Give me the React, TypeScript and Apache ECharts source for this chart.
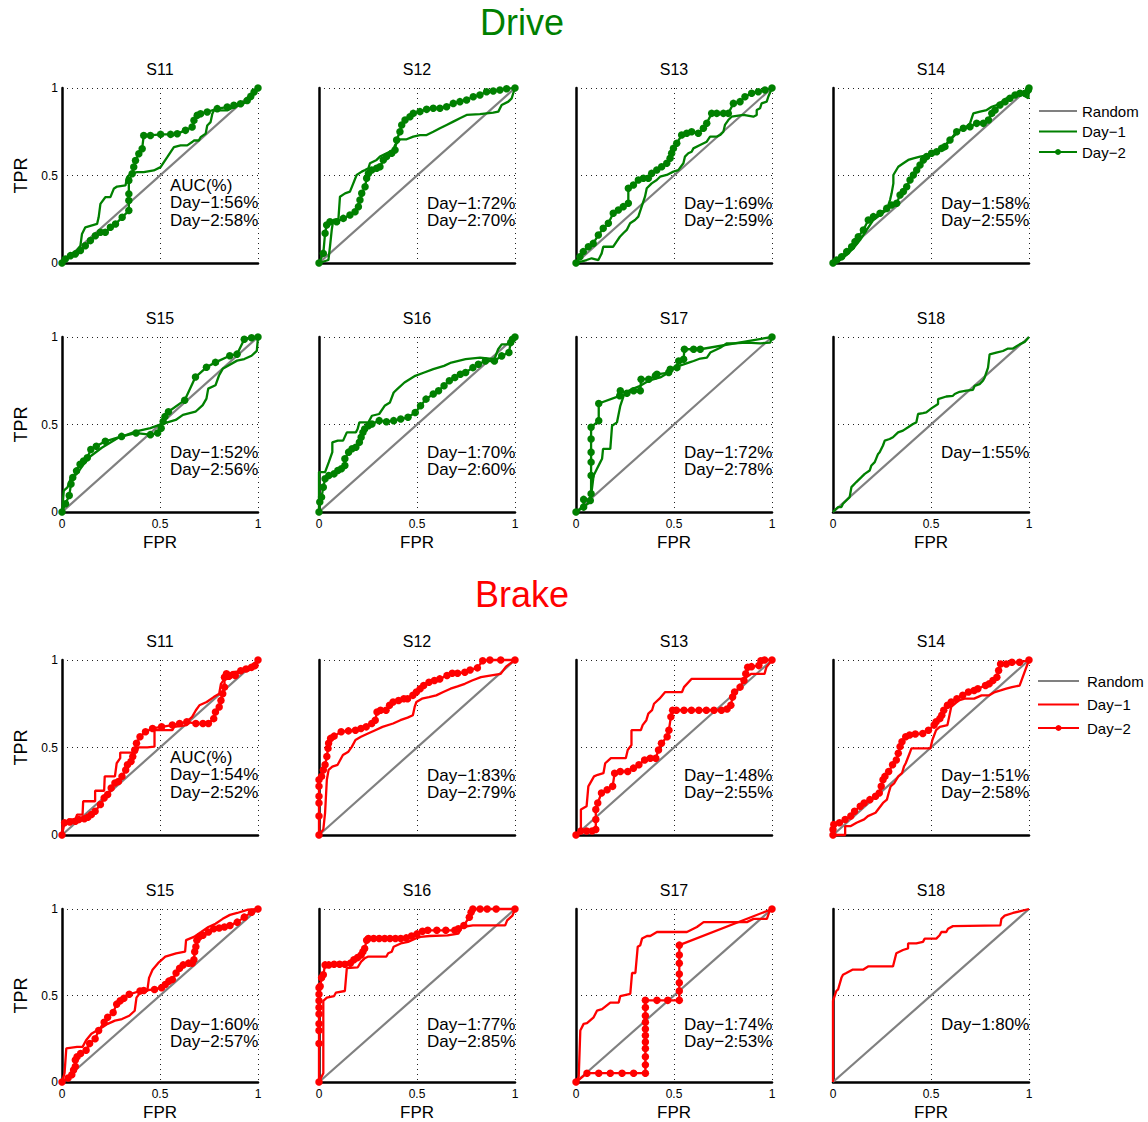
import React, { useEffect, useRef } from 'react';
import * as echarts from 'echarts';

// ---------- Data ----------
const subjects = ['S11', 'S12', 'S13', 'S14', 'S15', 'S16', 'S17', 'S18'];
const axisTicks = [0, 0.5, 1];

const driveAUC1 = [56, 72, 69, 58, 52, 70, 72, 55];
const driveAUC2 = [58, 70, 59, 55, 56, 60, 78, null];
const brakeAUC1 = [54, 83, 48, 51, 60, 77, 74, 80];
const brakeAUC2 = [52, 79, 55, 58, 57, 85, 53, null];

const randomLine = [[0, 0], [1, 1]];

// Drive
const driveS11Day1 = [[0,0],[0.017,0.013],[0.043,0.052],[0.068,0.061],[0.094,0.099],[0.102,0.166],[0.119,0.204],[0.179,0.223],[0.187,0.261],[0.196,0.338],[0.221,0.376],[0.247,0.376],[0.264,0.424],[0.281,0.437],[0.324,0.443],[0.332,0.49],[0.349,0.51],[0.383,0.519],[0.417,0.519],[0.468,0.529],[0.503,0.548],[0.537,0.605],[0.554,0.634],[0.571,0.662],[0.605,0.672],[0.639,0.672],[0.664,0.691],[0.673,0.7],[0.698,0.7],[0.707,0.719],[0.733,0.739],[0.741,0.786],[0.758,0.805],[0.767,0.853],[0.775,0.872],[0.843,0.872],[0.877,0.891],[0.945,0.92],[0.98,0.968],[1,1]];
const driveS11Day2 = [[0,0],[0.017,0.023],[0.043,0.042],[0.068,0.052],[0.094,0.071],[0.119,0.099],[0.145,0.128],[0.17,0.156],[0.196,0.176],[0.221,0.176],[0.247,0.204],[0.273,0.223],[0.307,0.261],[0.341,0.3],[0.341,0.357],[0.341,0.395],[0.341,0.471],[0.358,0.51],[0.366,0.548],[0.375,0.586],[0.392,0.624],[0.409,0.653],[0.417,0.729],[0.451,0.729],[0.503,0.735],[0.554,0.735],[0.588,0.739],[0.63,0.758],[0.664,0.777],[0.673,0.815],[0.69,0.844],[0.707,0.853],[0.741,0.863],[0.792,0.882],[0.843,0.891],[0.877,0.901],[0.911,0.91],[0.945,0.929],[0.963,0.952],[0.98,0.977],[1,1]];
const driveS12Day1 = [[0,0],[0.048,0.017],[0.056,0.093],[0.065,0.189],[0.073,0.246],[0.099,0.25],[0.107,0.379],[0.133,0.398],[0.158,0.408],[0.175,0.455],[0.192,0.503],[0.218,0.522],[0.235,0.531],[0.252,0.541],[0.26,0.57],[0.294,0.589],[0.311,0.608],[0.345,0.627],[0.379,0.646],[0.388,0.674],[0.405,0.693],[0.413,0.707],[0.447,0.707],[0.481,0.722],[0.515,0.731],[0.549,0.731],[0.583,0.75],[0.617,0.77],[0.651,0.789],[0.685,0.808],[0.719,0.827],[0.753,0.846],[0.821,0.851],[0.889,0.859],[0.915,0.865],[0.932,0.903],[0.966,0.922],[0.983,0.941],[0.991,0.97],[1,1]];
const driveS12Day2 = [[0,0],[0.022,0.055],[0.031,0.17],[0.039,0.217],[0.056,0.236],[0.09,0.236],[0.124,0.255],[0.158,0.274],[0.184,0.293],[0.201,0.322],[0.209,0.36],[0.218,0.398],[0.235,0.436],[0.243,0.484],[0.252,0.512],[0.269,0.531],[0.294,0.541],[0.311,0.55],[0.328,0.589],[0.345,0.608],[0.371,0.627],[0.388,0.646],[0.396,0.703],[0.413,0.75],[0.422,0.789],[0.439,0.817],[0.464,0.836],[0.481,0.855],[0.515,0.865],[0.549,0.878],[0.583,0.884],[0.617,0.884],[0.651,0.893],[0.685,0.912],[0.719,0.922],[0.753,0.931],[0.787,0.95],[0.821,0.96],[0.855,0.979],[0.889,0.983],[0.923,0.989],[0.957,0.996],[1,1]];
const driveS13Day1 = [[0,0],[0.054,0.017],[0.08,0.027],[0.114,0.017],[0.131,0.055],[0.139,0.093],[0.19,0.093],[0.207,0.122],[0.224,0.15],[0.241,0.17],[0.259,0.189],[0.276,0.227],[0.301,0.246],[0.318,0.265],[0.335,0.322],[0.352,0.379],[0.361,0.427],[0.386,0.455],[0.412,0.474],[0.429,0.493],[0.463,0.503],[0.497,0.522],[0.522,0.531],[0.548,0.57],[0.556,0.608],[0.573,0.627],[0.59,0.636],[0.599,0.655],[0.633,0.674],[0.667,0.693],[0.684,0.722],[0.718,0.722],[0.735,0.731],[0.752,0.75],[0.76,0.789],[0.777,0.817],[0.794,0.836],[0.854,0.846],[0.905,0.836],[0.922,0.846],[0.922,0.874],[0.939,0.884],[0.947,0.912],[0.973,0.922],[0.981,0.95],[1,1]];
const driveS13Day2 = [[0,0],[0.02,0.036],[0.037,0.065],[0.063,0.093],[0.088,0.112],[0.114,0.16],[0.139,0.198],[0.165,0.227],[0.19,0.284],[0.216,0.303],[0.241,0.322],[0.267,0.341],[0.267,0.427],[0.293,0.446],[0.318,0.474],[0.344,0.484],[0.369,0.484],[0.386,0.512],[0.412,0.531],[0.437,0.55],[0.463,0.57],[0.48,0.598],[0.488,0.627],[0.497,0.655],[0.514,0.684],[0.539,0.731],[0.565,0.741],[0.59,0.75],[0.624,0.741],[0.65,0.77],[0.667,0.798],[0.692,0.855],[0.718,0.855],[0.752,0.855],[0.777,0.855],[0.803,0.912],[0.837,0.922],[0.862,0.95],[0.896,0.97],[0.93,0.979],[0.964,0.989],[1,1]];
const driveS14Day1 = [[0,0],[0.036,0.017],[0.07,0.046],[0.104,0.084],[0.138,0.131],[0.172,0.189],[0.206,0.246],[0.24,0.274],[0.274,0.303],[0.291,0.36],[0.299,0.398],[0.308,0.455],[0.308,0.503],[0.333,0.55],[0.359,0.57],[0.384,0.589],[0.41,0.598],[0.444,0.608],[0.486,0.617],[0.512,0.627],[0.546,0.655],[0.58,0.684],[0.614,0.722],[0.648,0.76],[0.682,0.779],[0.699,0.798],[0.716,0.855],[0.75,0.865],[0.784,0.874],[0.81,0.893],[0.835,0.903],[0.861,0.922],[0.886,0.941],[0.92,0.96],[0.954,0.97],[0.997,0.941],[1,1]];
const driveS14Day2 = [[0,0],[0.019,0.017],[0.044,0.036],[0.07,0.065],[0.095,0.093],[0.112,0.122],[0.129,0.15],[0.155,0.189],[0.18,0.246],[0.206,0.265],[0.24,0.284],[0.274,0.312],[0.299,0.331],[0.325,0.341],[0.342,0.389],[0.359,0.408],[0.376,0.436],[0.393,0.474],[0.41,0.503],[0.427,0.531],[0.444,0.56],[0.461,0.589],[0.478,0.608],[0.503,0.627],[0.529,0.636],[0.554,0.655],[0.571,0.665],[0.597,0.703],[0.631,0.75],[0.665,0.77],[0.699,0.779],[0.733,0.798],[0.767,0.798],[0.793,0.817],[0.81,0.855],[0.827,0.874],[0.852,0.903],[0.878,0.922],[0.903,0.941],[0.929,0.96],[0.954,0.97],[0.98,0.97],[0.997,0.989],[1,1]];
const driveS15Day1 = [[0,0],[0.009,0.122],[0.028,0.141],[0.046,0.197],[0.074,0.216],[0.092,0.244],[0.11,0.273],[0.147,0.32],[0.203,0.367],[0.285,0.423],[0.378,0.461],[0.451,0.479],[0.497,0.498],[0.525,0.508],[0.58,0.526],[0.617,0.555],[0.681,0.573],[0.718,0.611],[0.737,0.648],[0.746,0.705],[0.783,0.724],[0.801,0.78],[0.82,0.818],[0.847,0.836],[0.893,0.865],[0.93,0.874],[0.967,0.893],[0.994,0.921],[1,1]];
const driveS15Day2 = [[0,0],[0.018,0.047],[0.037,0.094],[0.046,0.16],[0.055,0.197],[0.074,0.235],[0.092,0.273],[0.11,0.291],[0.129,0.31],[0.147,0.357],[0.175,0.376],[0.221,0.404],[0.304,0.432],[0.378,0.451],[0.451,0.442],[0.488,0.451],[0.506,0.479],[0.516,0.517],[0.525,0.545],[0.543,0.573],[0.626,0.639],[0.681,0.771],[0.737,0.827],[0.783,0.855],[0.856,0.893],[0.893,0.902],[0.93,0.987],[0.967,0.996],[1,1]];
const driveS16Day1 = [[0,0],[0,0.228],[0.031,0.228],[0.05,0.285],[0.068,0.342],[0.068,0.398],[0.096,0.408],[0.123,0.408],[0.142,0.455],[0.188,0.455],[0.197,0.474],[0.206,0.512],[0.252,0.512],[0.27,0.55],[0.307,0.56],[0.335,0.607],[0.362,0.626],[0.381,0.683],[0.399,0.702],[0.436,0.74],[0.491,0.778],[0.537,0.797],[0.583,0.816],[0.638,0.835],[0.675,0.854],[0.748,0.873],[0.822,0.882],[0.895,0.873],[0.914,0.93],[0.932,0.958],[0.978,0.958],[0.987,0.987],[1,1]];
const driveS16Day2 = [[0,0],[0.004,0.057],[0.013,0.085],[0.022,0.142],[0.031,0.19],[0.05,0.209],[0.077,0.218],[0.096,0.237],[0.114,0.247],[0.132,0.266],[0.132,0.304],[0.151,0.342],[0.169,0.361],[0.188,0.37],[0.206,0.398],[0.215,0.427],[0.224,0.455],[0.233,0.474],[0.252,0.493],[0.27,0.503],[0.307,0.522],[0.344,0.516],[0.381,0.522],[0.417,0.531],[0.454,0.541],[0.491,0.569],[0.518,0.607],[0.546,0.645],[0.583,0.674],[0.61,0.693],[0.638,0.721],[0.665,0.75],[0.693,0.769],[0.721,0.787],[0.748,0.797],[0.785,0.825],[0.813,0.844],[0.849,0.863],[0.895,0.863],[0.932,0.892],[0.969,0.911],[0.978,0.968],[0.987,0.987],[1,1]];
const driveS17Day1 = [[0,0],[0.073,0.057],[0.09,0.209],[0.107,0.247],[0.124,0.285],[0.133,0.304],[0.138,0.361],[0.175,0.361],[0.184,0.493],[0.209,0.512],[0.226,0.607],[0.243,0.664],[0.252,0.683],[0.286,0.702],[0.328,0.721],[0.371,0.75],[0.43,0.769],[0.473,0.797],[0.498,0.825],[0.549,0.844],[0.575,0.854],[0.6,0.863],[0.634,0.877],[0.668,0.882],[0.685,0.911],[0.736,0.939],[0.77,0.964],[0.804,0.964],[0.872,0.968],[0.94,0.964],[0.991,0.968],[1,1]];
const driveS17Day2 = [[0,0],[0.039,0.028],[0.039,0.072],[0.073,0.066],[0.077,0.104],[0.077,0.209],[0.077,0.285],[0.077,0.342],[0.077,0.417],[0.077,0.484],[0.116,0.522],[0.116,0.62],[0.223,0.664],[0.226,0.693],[0.26,0.679],[0.294,0.693],[0.328,0.693],[0.332,0.759],[0.371,0.759],[0.405,0.778],[0.413,0.787],[0.473,0.797],[0.481,0.816],[0.515,0.825],[0.524,0.863],[0.549,0.873],[0.553,0.93],[0.6,0.93],[0.634,0.93],[1,1]];
const driveS18Day1 = [[0,0],[0.026,0.028],[0.043,0.028],[0.051,0.047],[0.068,0.066],[0.085,0.085],[0.094,0.142],[0.119,0.171],[0.145,0.199],[0.162,0.218],[0.187,0.237],[0.196,0.266],[0.213,0.285],[0.23,0.332],[0.238,0.342],[0.255,0.38],[0.264,0.408],[0.289,0.417],[0.306,0.427],[0.332,0.455],[0.357,0.465],[0.383,0.484],[0.408,0.503],[0.425,0.512],[0.434,0.56],[0.459,0.565],[0.476,0.569],[0.502,0.592],[0.536,0.617],[0.536,0.645],[0.578,0.66],[0.612,0.664],[0.621,0.674],[0.646,0.687],[0.68,0.693],[0.714,0.698],[0.723,0.721],[0.748,0.731],[0.765,0.75],[0.774,0.769],[0.791,0.825],[0.799,0.901],[0.833,0.911],[0.867,0.92],[0.893,0.934],[0.918,0.934],[0.952,0.958],[0.978,0.972],[1,1]];

// Brake
const brakeS11Day1 = [[0,0],[0.004,0.07],[0.031,0.07],[0.031,0.089],[0.068,0.089],[0.077,0.117],[0.105,0.117],[0.108,0.193],[0.169,0.193],[0.169,0.253],[0.215,0.253],[0.218,0.335],[0.27,0.335],[0.279,0.41],[0.297,0.439],[0.297,0.471],[0.38,0.471],[0.389,0.501],[0.435,0.501],[0.472,0.505],[0.472,0.599],[0.527,0.599],[0.563,0.599],[0.572,0.618],[0.637,0.628],[0.646,0.656],[0.664,0.675],[0.683,0.713],[0.701,0.741],[0.738,0.76],[0.774,0.788],[0.802,0.807],[0.811,0.864],[0.829,0.892],[0.857,0.892],[0.866,0.93],[0.949,0.939],[0.967,0.949],[1,1]];
const brakeS11Day2 = [[0,0],[0.013,0.07],[0.04,0.074],[0.068,0.079],[0.086,0.089],[0.114,0.093],[0.132,0.102],[0.15,0.117],[0.169,0.136],[0.196,0.174],[0.215,0.212],[0.233,0.231],[0.251,0.268],[0.27,0.297],[0.288,0.306],[0.306,0.335],[0.325,0.372],[0.334,0.401],[0.352,0.42],[0.361,0.448],[0.371,0.486],[0.38,0.524],[0.398,0.561],[0.426,0.59],[0.462,0.609],[0.508,0.618],[0.563,0.628],[0.6,0.637],[0.637,0.647],[0.683,0.637],[0.719,0.637],[0.747,0.637],[0.774,0.665],[0.783,0.703],[0.802,0.732],[0.811,0.769],[0.82,0.807],[0.829,0.845],[0.829,0.902],[0.839,0.921],[0.857,0.911],[0.884,0.911],[0.912,0.939],[0.939,0.949],[0.967,0.958],[0.985,0.968],[1,1]];
const brakeS12Day1 = [[0,0],[0.022,0.032],[0.031,0.127],[0.04,0.316],[0.049,0.372],[0.068,0.391],[0.095,0.401],[0.104,0.42],[0.122,0.457],[0.15,0.476],[0.168,0.505],[0.186,0.543],[0.214,0.561],[0.25,0.58],[0.287,0.599],[0.324,0.618],[0.378,0.637],[0.415,0.656],[0.452,0.671],[0.479,0.684],[0.488,0.732],[0.497,0.76],[0.525,0.779],[0.561,0.788],[0.598,0.798],[0.634,0.817],[0.671,0.836],[0.707,0.849],[0.744,0.864],[0.781,0.883],[0.826,0.902],[0.872,0.911],[0.927,0.921],[0.954,0.962],[1,1]];
const brakeS12Day2 = [[0,0],[0,0.108],[0,0.183],[0,0.221],[0,0.278],[0,0.316],[0.013,0.335],[0.022,0.372],[0.031,0.401],[0.04,0.448],[0.046,0.495],[0.049,0.524],[0.059,0.552],[0.077,0.565],[0.113,0.59],[0.15,0.595],[0.186,0.599],[0.214,0.609],[0.241,0.618],[0.269,0.637],[0.287,0.656],[0.296,0.703],[0.314,0.713],[0.342,0.713],[0.36,0.741],[0.378,0.76],[0.406,0.769],[0.433,0.779],[0.452,0.779],[0.479,0.798],[0.497,0.817],[0.516,0.836],[0.534,0.854],[0.561,0.873],[0.589,0.883],[0.616,0.892],[0.653,0.911],[0.68,0.924],[0.707,0.924],[0.744,0.93],[0.771,0.943],[0.808,0.955],[0.835,0.996],[0.872,1],[0.927,1],[1,1]];
const brakeS13Day1 = [[0,0],[0.025,0.032],[0.025,0.146],[0.054,0.164],[0.063,0.278],[0.092,0.335],[0.111,0.344],[0.14,0.353],[0.149,0.41],[0.178,0.439],[0.254,0.439],[0.264,0.486],[0.283,0.514],[0.283,0.599],[0.331,0.599],[0.34,0.628],[0.359,0.656],[0.369,0.694],[0.388,0.713],[0.398,0.75],[0.426,0.779],[0.455,0.817],[0.541,0.817],[0.551,0.845],[0.589,0.892],[0.857,0.892],[0.895,0.921],[0.962,0.921],[0.971,0.958],[1,1]];
const brakeS13Day2 = [[0,0],[0.025,0.023],[0.054,0.023],[0.082,0.023],[0.101,0.032],[0.101,0.089],[0.101,0.146],[0.111,0.183],[0.13,0.24],[0.159,0.259],[0.187,0.278],[0.197,0.353],[0.226,0.363],[0.264,0.363],[0.293,0.382],[0.321,0.401],[0.35,0.429],[0.379,0.439],[0.407,0.439],[0.421,0.486],[0.436,0.524],[0.465,0.561],[0.474,0.599],[0.484,0.675],[0.493,0.713],[0.512,0.713],[0.551,0.713],[0.589,0.713],[0.627,0.713],[0.665,0.713],[0.704,0.713],[0.742,0.713],[0.771,0.72],[0.79,0.741],[0.799,0.788],[0.809,0.817],[0.837,0.845],[0.857,0.883],[0.866,0.921],[0.876,0.958],[0.895,0.962],[0.933,0.968],[0.943,0.996],[0.962,1],[1,1]];
const brakeS14Day1 = [[0,0],[0.062,0],[0.062,0.051],[0.091,0.051],[0.12,0.07],[0.159,0.089],[0.178,0.108],[0.217,0.127],[0.255,0.183],[0.275,0.202],[0.284,0.24],[0.294,0.278],[0.313,0.297],[0.333,0.335],[0.352,0.353],[0.362,0.391],[0.371,0.41],[0.391,0.467],[0.4,0.495],[0.497,0.495],[0.507,0.543],[0.526,0.599],[0.545,0.618],[0.584,0.628],[0.603,0.732],[0.642,0.769],[0.671,0.779],[0.72,0.779],[0.758,0.798],[0.797,0.798],[0.826,0.817],[0.855,0.826],[0.884,0.836],[0.913,0.845],[0.952,0.854],[1,1]];
const brakeS14Day2 = [[0,0],[0,0.032],[0.004,0.06],[0.033,0.07],[0.062,0.089],[0.091,0.108],[0.11,0.136],[0.139,0.164],[0.159,0.183],[0.188,0.202],[0.217,0.221],[0.236,0.24],[0.246,0.278],[0.255,0.316],[0.265,0.335],[0.284,0.363],[0.304,0.401],[0.323,0.429],[0.333,0.467],[0.342,0.505],[0.352,0.533],[0.371,0.561],[0.391,0.571],[0.42,0.577],[0.458,0.58],[0.487,0.599],[0.516,0.628],[0.526,0.647],[0.545,0.665],[0.555,0.684],[0.565,0.713],[0.584,0.741],[0.603,0.76],[0.632,0.779],[0.662,0.798],[0.691,0.817],[0.72,0.826],[0.739,0.836],[0.778,0.854],[0.797,0.864],[0.816,0.883],[0.836,0.902],[0.845,0.94],[0.855,0.977],[0.884,0.977],[0.913,0.987],[0.952,0.987],[1,1]];
const brakeS15Day1 = [[0,0],[0.013,0.051],[0.022,0.194],[0.077,0.203],[0.105,0.203],[0.123,0.241],[0.15,0.279],[0.178,0.298],[0.206,0.317],[0.233,0.336],[0.27,0.355],[0.306,0.364],[0.343,0.383],[0.371,0.412],[0.38,0.488],[0.398,0.516],[0.435,0.526],[0.444,0.602],[0.462,0.649],[0.49,0.687],[0.527,0.725],[0.582,0.744],[0.628,0.753],[0.633,0.82],[0.673,0.839],[0.71,0.867],[0.747,0.896],[0.783,0.915],[0.82,0.943],[0.857,0.966],[0.894,0.977],[0.949,0.996],[1,1]];
const brakeS15Day2 = [[0,0],[0.031,0.023],[0.05,0.042],[0.059,0.07],[0.068,0.089],[0.068,0.127],[0.077,0.146],[0.095,0.165],[0.123,0.184],[0.141,0.222],[0.169,0.25],[0.187,0.298],[0.215,0.345],[0.233,0.374],[0.261,0.402],[0.279,0.45],[0.297,0.469],[0.316,0.484],[0.343,0.507],[0.398,0.526],[0.417,0.529],[0.472,0.535],[0.508,0.545],[0.527,0.564],[0.545,0.583],[0.563,0.592],[0.582,0.63],[0.6,0.658],[0.618,0.677],[0.646,0.687],[0.664,0.687],[0.673,0.706],[0.677,0.753],[0.683,0.782],[0.688,0.82],[0.701,0.839],[0.719,0.848],[0.747,0.867],[0.774,0.886],[0.802,0.89],[0.829,0.896],[0.857,0.905],[0.894,0.924],[0.93,0.953],[0.967,0.981],[1,1]];
const brakeS16Day1 = [[0,0],[0.022,0.051],[0.022,0.469],[0.04,0.488],[0.077,0.497],[0.086,0.516],[0.132,0.526],[0.142,0.658],[0.197,0.662],[0.215,0.696],[0.233,0.715],[0.252,0.725],[0.344,0.725],[0.353,0.744],[0.371,0.753],[0.381,0.782],[0.417,0.801],[0.454,0.81],[0.491,0.829],[0.518,0.839],[0.564,0.844],[0.656,0.848],[0.711,0.858],[0.73,0.896],[0.785,0.905],[0.95,0.905],[0.96,0.934],[0.987,0.962],[1,1]];
const brakeS16Day2 = [[0,0],[0,0.222],[0,0.298],[0,0.336],[0,0.393],[0,0.431],[0,0.469],[0,0.507],[0,0.545],[0.006,0.554],[0.013,0.602],[0.022,0.62],[0.031,0.677],[0.05,0.677],[0.077,0.681],[0.105,0.681],[0.132,0.681],[0.16,0.687],[0.178,0.706],[0.197,0.719],[0.215,0.734],[0.224,0.753],[0.233,0.772],[0.243,0.82],[0.252,0.829],[0.279,0.829],[0.307,0.829],[0.335,0.829],[0.362,0.829],[0.39,0.829],[0.417,0.829],[0.445,0.833],[0.472,0.844],[0.5,0.856],[0.528,0.871],[0.555,0.877],[0.601,0.877],[0.647,0.877],[0.693,0.877],[0.711,0.886],[0.739,0.905],[0.767,0.953],[0.776,0.981],[0.785,1],[0.822,1],[0.858,1],[0.904,1],[1,1]];
const brakeS17Day1 = [[0,0],[0.014,0.032],[0.022,0.298],[0.039,0.336],[0.056,0.34],[0.09,0.374],[0.107,0.412],[0.133,0.421],[0.175,0.459],[0.218,0.459],[0.226,0.497],[0.277,0.51],[0.286,0.63],[0.303,0.63],[0.315,0.782],[0.328,0.791],[0.337,0.829],[0.362,0.844],[0.379,0.844],[0.413,0.867],[0.566,0.867],[0.617,0.896],[0.651,0.924],[0.872,0.924],[0.906,0.943],[0.974,0.943],[0.991,1],[1,1]];
const brakeS17Day2 = [[0,0],[0.056,0.051],[0.116,0.051],[0.175,0.051],[0.235,0.051],[0.294,0.051],[0.354,0.051],[0.354,0.099],[0.354,0.146],[0.354,0.194],[0.354,0.231],[0.354,0.269],[0.354,0.307],[0.354,0.345],[0.354,0.383],[0.354,0.431],[0.354,0.472],[0.413,0.472],[0.468,0.472],[0.527,0.472],[0.527,0.526],[0.527,0.573],[0.527,0.624],[0.527,0.687],[0.527,0.734],[0.527,0.791],[1,1]];
const brakeS18Day1 = [[0,0],[0,0.469],[0.017,0.526],[0.026,0.535],[0.043,0.602],[0.051,0.62],[0.068,0.63],[0.099,0.649],[0.153,0.649],[0.179,0.668],[0.306,0.668],[0.323,0.744],[0.357,0.763],[0.383,0.772],[0.383,0.801],[0.425,0.801],[0.459,0.81],[0.468,0.829],[0.527,0.829],[0.544,0.848],[0.553,0.867],[0.578,0.867],[0.587,0.886],[0.612,0.901],[0.854,0.905],[0.859,0.943],[0.876,0.962],[0.918,0.977],[1,1]];

const driveDay1 = [driveS11Day1, driveS12Day1, driveS13Day1, driveS14Day1, driveS15Day1, driveS16Day1, driveS17Day1, driveS18Day1];
const driveDay2 = [driveS11Day2, driveS12Day2, driveS13Day2, driveS14Day2, driveS15Day2, driveS16Day2, driveS17Day2, null];
const brakeDay1 = [brakeS11Day1, brakeS12Day1, brakeS13Day1, brakeS14Day1, brakeS15Day1, brakeS16Day1, brakeS17Day1, brakeS18Day1];
const brakeDay2 = [brakeS11Day2, brakeS12Day2, brakeS13Day2, brakeS14Day2, brakeS15Day2, brakeS16Day2, brakeS17Day2, null];

// ---------- Layout ----------
const FONT = "'Liberation Sans', Arial, Helvetica, sans-serif";
const colLeft = [62, 319, 576, 833];
const rowTop = [88, 337, 660, 909];
const PW = 196;
const PH = 175;

const groups = [
  { key: 'Drive', color: '#008000', titleY: 22, day1: driveDay1, day2: driveDay2, auc1: driveAUC1, auc2: driveAUC2 },
  { key: 'Brake', color: '#ff0000', titleY: 594, day1: brakeDay1, day2: brakeDay2, auc1: brakeAUC1, auc2: brakeAUC2 },
];

function buildOption() {
  const grid: any[] = [];
  const xAxis: any[] = [];
  const yAxis: any[] = [];
  const series: any[] = [];
  const elements: any[] = [];

  groups.forEach((g, gi) => {
    elements.push({
      type: 'text', x: 522, y: g.titleY, silent: true,
      style: { text: g.key, font: `36px ${FONT}`, fill: g.color, textAlign: 'center', textVerticalAlign: 'middle' },
    });
    subjects.forEach((s, pi) => {
      const row = gi * 2 + Math.floor(pi / 4);
      const col = pi % 4;
      const idx = grid.length;
      const left = colLeft[col];
      const top = rowTop[row];
      const showX = pi >= 4;
      const showY = col === 0;
      grid.push({ left, top, width: PW, height: PH, containLabel: false });
      const split = { show: true, lineStyle: { type: [1, 4], color: '#222', width: 1 } };
      xAxis.push({
        gridIndex: idx, type: 'value', min: axisTicks[0], max: axisTicks[2], interval: axisTicks[1],
        axisLine: { show: true, onZero: false, lineStyle: { color: '#000', width: 2.5 } },
        axisTick: { show: false },
        axisLabel: { show: showX, color: '#000', fontSize: 12, fontFamily: FONT, margin: 6 },
        splitLine: split,
        name: showX ? 'FPR' : '', nameLocation: 'middle', nameGap: 22,
        nameTextStyle: { color: '#000', fontSize: 17, fontFamily: FONT },
      });
      yAxis.push({
        gridIndex: idx, type: 'value', min: axisTicks[0], max: axisTicks[2], interval: axisTicks[1],
        axisLine: { show: true, onZero: false, lineStyle: { color: '#000', width: 2.5 } },
        axisTick: { show: false },
        axisLabel: { show: showY, color: '#000', fontSize: 12, fontFamily: FONT, margin: 4 },
        splitLine: split,
        name: showY ? 'TPR' : '', nameLocation: 'middle', nameGap: 32,
        nameTextStyle: { color: '#000', fontSize: 18, fontFamily: FONT },
      });
      const common = { xAxisIndex: idx, yAxisIndex: idx, type: 'line', clip: false, silent: true, emphasis: { disabled: true } };
      series.push({
        ...common, name: `${g.key} Random`, data: randomLine, symbol: 'none',
        lineStyle: { color: '#808080', width: 2.2 }, itemStyle: { color: '#808080' }, z: 2,
      });
      series.push({
        ...common, name: `${g.key} Day−1`, data: g.day1[pi], symbol: 'none',
        lineStyle: { color: g.color, width: 2.3 }, itemStyle: { color: g.color }, z: 3,
      });
      if (g.day2[pi]) {
        series.push({
          ...common, name: `${g.key} Day−2`, data: g.day2[pi], symbol: 'circle', symbolSize: 7.5, showSymbol: true,
          lineStyle: { color: g.color, width: 2.3 }, itemStyle: { color: g.color }, z: 4,
        });
      }
      // subplot title
      elements.push({
        type: 'text', x: left + PW / 2, y: top - 19, silent: true,
        style: { text: s, font: `16px ${FONT}`, fill: '#000', textAlign: 'center', textVerticalAlign: 'middle' },
      });
      // AUC annotation
      const tx = left + 108;
      const lines: string[] = [];
      if (pi === 0) lines.push('AUC(%)');
      lines.push(`Day−1:${g.auc1[pi]}%`);
      if (g.auc2[pi] != null) lines.push(`Day−2:${g.auc2[pi]}%`);
      const startY = pi === 0 ? top + 97 : top + 115;
      lines.forEach((t, li) => {
        elements.push({
          type: 'text', x: tx, y: startY + li * 17.5, silent: true,
          style: { text: t, font: `17px ${FONT}`, fill: '#000', textAlign: 'left', textVerticalAlign: 'middle' },
        });
      });
    });
  });

  const legendCommon = {
    orient: 'vertical', selectedMode: false, padding: 0, itemHeight: 7.5,
    textStyle: { color: '#000', fontSize: 15, fontFamily: FONT },
    formatter: (name: string) => name.split(' ').slice(1).join(' '),
  };
  const legendData = (key: string) => [
    { name: `${key} Random`, itemStyle: { opacity: 0 } },
    { name: `${key} Day−1`, itemStyle: { opacity: 0 } },
    { name: `${key} Day−2` },
  ];

  return {
    animation: false,
    backgroundColor: '#fff',
    grid, xAxis, yAxis, series,
    legend: [
      { ...legendCommon, left: 1038, top: 103.5, itemWidth: 38, itemGap: 5.5, data: legendData('Drive') },
      { ...legendCommon, left: 1037, top: 673.5, itemWidth: 41, itemGap: 8.5,
        textStyle: { ...legendCommon.textStyle, padding: [0, 0, 0, 3] }, data: legendData('Brake') },
    ],
    graphic: { elements },
  };
}

export default function App() {
  const ref = useRef<HTMLDivElement>(null);
  useEffect(() => {
    if (!ref.current) return;
    const chart = echarts.init(ref.current, undefined, { renderer: 'svg' });
    chart.setOption(buildOption() as any);
    return () => chart.dispose();
  }, []);
  return (
    <div
      ref={ref}
      style={{ position: 'fixed', left: 0, top: 0, width: 1148, height: 1122, background: '#fff' }}
    />
  );
}
